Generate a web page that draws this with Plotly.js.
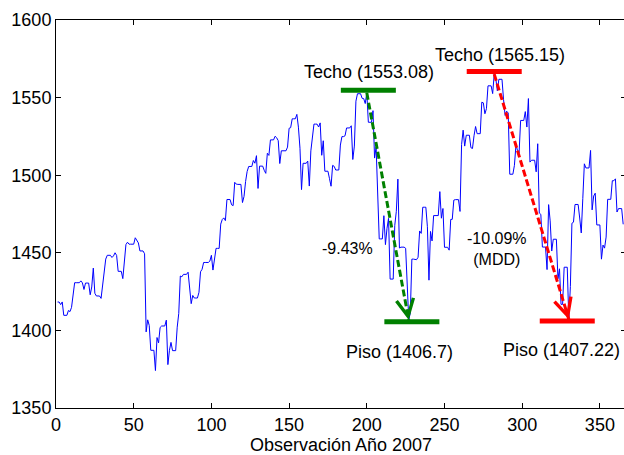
<!DOCTYPE html>
<html>
<head>
<meta charset="utf-8">
<script src="https://cdn.plot.ly/plotly-3.0.1.min.js"></script>
<style>
html,body{margin:0;padding:0;overflow:hidden;background:#fff;}
#chart{width:626px;height:455px;}
</style>
</head>
<body>
<div id="chart"></div>
<script>
// S&P 500 closing level, one value per calendar day of 2007 (weekends/holidays hold last close)
const jan = [1418.30,1418.30,1416.60,1418.34,1409.71,1409.71,1409.71,1412.84,1412.11,1414.85,1423.82,1430.73,1430.73,1430.73,1430.73,1431.90,1430.62,1426.37,1430.50,1430.50,1430.50,1422.95,1427.99,1440.13,1423.90,1422.18,1422.18,1422.18,1420.62,1428.82,1438.24];
const feb = [1445.94,1448.39,1448.39,1448.39,1446.99,1448.00,1450.02,1448.31,1438.06,1438.06,1438.06,1433.37,1444.26,1455.30,1456.81,1455.54,1455.54,1455.54,1455.54,1459.68,1457.63,1456.38,1451.19,1451.19,1451.19,1449.37,1399.04,1406.82];
const mar = [1403.17,1387.17,1387.17,1387.17,1374.12,1395.41,1391.97,1401.89,1402.84,1402.84,1402.84,1406.60,1377.95,1387.17,1392.28,1386.95,1386.95,1386.95,1402.06,1410.94,1435.04,1434.54,1436.11,1436.11,1436.11,1437.50,1428.61,1417.23,1422.53,1420.86,1420.86];
const apr = [1420.86,1424.55,1437.77,1439.37,1443.76,1443.76,1443.76,1443.76,1444.61,1448.39,1438.87,1447.80,1452.85,1452.85,1452.85,1468.47,1471.48,1472.50,1470.73,1484.35,1484.35,1484.35,1480.93,1480.41,1495.42,1494.25,1494.07,1494.07,1494.07,1482.37];
const may = [1486.30,1495.92,1502.39,1505.62,1505.62,1505.62,1509.48,1507.72,1512.58,1491.47,1505.85,1505.85,1505.85,1503.15,1501.19,1514.14,1512.75,1522.75,1522.75,1522.75,1525.10,1524.12,1522.28,1507.51,1515.73,1515.73,1515.73,1515.73,1518.11,1530.23,1530.62];
const jun = [1536.34,1536.34,1536.34,1539.18,1530.95,1517.38,1490.72,1507.67,1507.67,1507.67,1509.12,1493.00,1515.67,1522.97,1532.91,1532.91,1532.91,1531.05,1533.70,1512.84,1522.19,1502.56,1502.56,1502.56,1497.74,1492.89,1506.34,1505.71,1503.35,1503.35];
const jul = [1503.35,1519.43,1524.87,1524.87,1525.40,1530.44,1530.44,1530.44,1531.85,1510.12,1518.76,1547.70,1552.50,1552.50,1552.50,1549.52,1549.37,1546.17,1553.08,1534.10,1534.10,1534.10,1541.57,1511.04,1518.09,1482.66,1458.95,1458.95,1458.95,1473.91,1455.27];
const aug = [1465.81,1472.20,1433.06,1433.06,1433.06,1467.67,1476.71,1497.49,1453.09,1453.64,1453.64,1453.64,1452.92,1426.54,1406.70,1411.27,1445.94,1445.94,1445.94,1445.55,1447.12,1464.07,1462.50,1479.37,1479.37,1479.37,1466.79,1432.36,1463.76,1457.64,1473.99];
const sep = [1473.99,1473.99,1473.99,1489.42,1472.29,1478.55,1453.55,1453.55,1453.55,1451.70,1471.49,1471.56,1483.95,1484.25,1484.25,1484.25,1476.65,1519.78,1529.03,1518.75,1525.75,1525.75,1525.75,1517.73,1517.21,1525.42,1531.38,1526.75,1526.75,1526.75];
const oct = [1547.04,1546.63,1539.59,1542.84,1557.59,1557.59,1557.59,1552.58,1565.15,1562.47,1554.41,1561.80,1561.80,1561.80,1548.71,1538.53,1541.24,1540.08,1500.63,1500.63,1500.63,1506.33,1519.59,1515.88,1514.40,1535.28,1535.28,1535.28,1540.98,1531.02,1549.38];
const nov = [1508.44,1509.65,1509.65,1509.65,1502.17,1520.27,1475.62,1474.77,1453.70,1453.70,1453.70,1439.18,1481.05,1470.58,1451.15,1458.74,1458.74,1458.74,1433.27,1439.70,1416.77,1416.77,1440.70,1440.70,1440.70,1407.22,1428.23,1469.02,1469.72,1481.14];
const dec = [1481.14,1481.14,1472.42,1462.79,1485.01,1507.34,1504.66,1504.66,1504.66,1515.96,1477.65,1486.59,1488.41,1467.95,1467.95,1467.95,1445.90,1454.98,1453.00,1460.12,1484.46,1484.46,1484.46,1496.45,1496.45,1497.66,1476.27,1478.49,1478.49,1478.49,1468.36];

// Drawdown episodes: [green, red]
const peakDay = [200, 282];
const peakVal = [1553.08, 1565.15];
const troughDay = [227, 330];
const troughVal = [1406.7, 1407.22];
const ddColors = ['#008000', '#ff0000'];

const xTicks = [0, 50, 100, 150, 200, 250, 300, 350];
const yTicks = [1350, 1400, 1450, 1500, 1550, 1600];

// ---- build ----
const values = [].concat(jan, feb, mar, apr, may, jun, jul, aug, sep, oct, nov, dec);
const days = values.map((v, i) => i + 1);

const traces = [{
  x: days, y: values, type: 'scatter', mode: 'lines',
  line: {color: '#0000ff', width: 1}, hoverinfo: 'skip'
}];

// label/bar placement (annotation layout, not data)
const topBarX = [201, 282], botBarX = [229, 329], barHalf = 17.7;
const topBarOff = 1.7, botBarOff = -1.2;
const topTextPos = [[201.5, 1566.3], [285.7, 1577.2]];
const botTextPos = [[220.8, 1386.4], [325.6, 1387.4]];
const pctTextPos = [[187.7, 1452.6], [283.8, 1452.6]];

const annotations = [];
for (let k = 0; k < 2; k++) {
  const c = ddColors[k];
  // dashed drawdown line
  traces.push({
    x: [peakDay[k], troughDay[k]], y: [peakVal[k], troughVal[k]],
    type: 'scatter', mode: 'lines', hoverinfo: 'skip',
    line: {color: c, width: 3, dash: '7px,3px'}
  });
  // techo bar
  traces.push({
    x: [topBarX[k] - barHalf, topBarX[k] + barHalf], y: [peakVal[k] + topBarOff, peakVal[k] + topBarOff],
    type: 'scatter', mode: 'lines', hoverinfo: 'skip', line: {color: c, width: 5}
  });
  // piso bar
  traces.push({
    x: [botBarX[k] - barHalf, botBarX[k] + barHalf], y: [troughVal[k] + botBarOff, troughVal[k] + botBarOff],
    type: 'scatter', mode: 'lines', hoverinfo: 'skip', line: {color: c, width: 5}
  });
  // arrow head
  const f = 0.95;
  annotations.push({
    x: troughDay[k], y: troughVal[k], xref: 'x', yref: 'y',
    ax: peakDay[k] + f * (troughDay[k] - peakDay[k]),
    ay: peakVal[k] + f * (troughVal[k] - peakVal[k]),
    axref: 'x', ayref: 'y', showarrow: true, arrowhead: 5, arrowsize: 1.3,
    arrowwidth: 2.6, arrowcolor: c, text: '', standoff: 0
  });
  annotations.push({
    x: topTextPos[k][0], y: topTextPos[k][1], xref: 'x', yref: 'y', showarrow: false,
    text: 'Techo (' + peakVal[k] + ')', xanchor: 'center', yanchor: 'middle'
  });
  annotations.push({
    x: botTextPos[k][0], y: botTextPos[k][1], xref: 'x', yref: 'y', showarrow: false,
    text: 'Piso (' + troughVal[k] + ')', xanchor: 'center', yanchor: 'middle'
  });
  const pct = ((troughVal[k] / peakVal[k] - 1) * 100).toFixed(2) + '%';
  annotations.push({
    x: pctTextPos[k][0], y: pctTextPos[k][1], xref: 'x', yref: 'y', showarrow: false,
    text: k === 1 ? pct + '<br>(MDD)' : pct, xanchor: 'center', yanchor: 'middle',
    font: {size: 16}
  });
}

const axisCommon = {
  ticks: 'inside', ticklen: 5, tickwidth: 1, tickcolor: '#000',
  showline: true, linecolor: '#000', linewidth: 1, mirror: 'ticks',
  showgrid: false, zeroline: false, fixedrange: true
};

const layout = {
  width: 626, height: 455,
  margin: {l: 56, r: 0, t: 20, b: 47, pad: 0},
  paper_bgcolor: '#fff', plot_bgcolor: '#fff',
  showlegend: false,
  font: {family: '"Liberation Sans", Arial, sans-serif', size: 18, color: '#000'},
  xaxis: Object.assign({}, axisCommon, {
    range: [0, 366.8], tickmode: 'array', tickvals: xTicks, ticktext: xTicks.map(String),
    title: {text: 'Observación Año 2007', font: {size: 18}, standoff: 5}
  }),
  yaxis: Object.assign({}, axisCommon, {
    range: [1350, 1600], tickmode: 'array', tickvals: yTicks, ticktext: yTicks.map(String)
  }),
  annotations: annotations
};

Plotly.newPlot('chart', traces, layout, {displayModeBar: false, staticPlot: true});
</script>
</body>
</html>
